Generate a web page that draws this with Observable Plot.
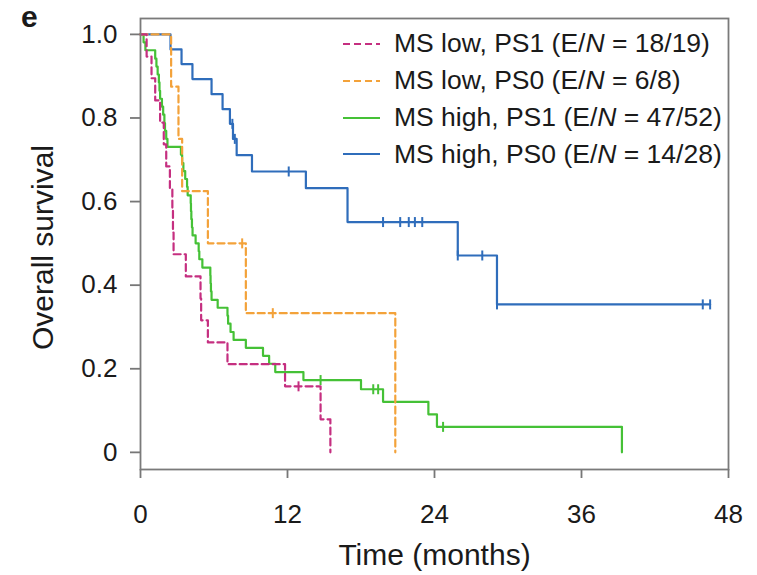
<!DOCTYPE html>
<html>
<head>
<meta charset="utf-8">
<script src="https://cdn.jsdelivr.net/npm/d3@7"></script>
<script src="https://cdn.jsdelivr.net/npm/@observablehq/plot@0.6"></script>
<style>
  body { margin: 0; background: #fff; }
  #wrap { position: relative; width: 757px; height: 575px; font-family: "Liberation Sans", Arial, Helvetica, sans-serif; color: #1a1a1a; }
  #panel { position: absolute; left: 21px; top: 0px; font-weight: bold; font-size: 30px; line-height: 1.15; }
  #legend { position: absolute; left: 343px; top: 25.6px; }
  .row { display: flex; align-items: center; height: 36.8px; font-size: 26.5px; white-space: nowrap; }
  .row svg { margin-right: 14px; }
</style>
</head>
<body>
<div id="wrap">
  <div id="chart"></div>
  <div id="panel">e</div>
  <div id="legend"></div>
</div>
<script>
// ---- axis ticks ----
const xTicks = [0, 12, 24, 36, 48];
const yTicks = [0, 0.2, 0.4, 0.6, 0.8, 1.0];
const yTickLabels = ["0", "0.2", "0.4", "0.6", "0.8", "1.0"];

// ---- series legend info ----
const seriesNames = ["MS low, PS1", "MS low, PS0", "MS high, PS1", "MS high, PS0"];
const seriesEN = ["18/19", "6/8", "47/52", "14/28"];
const seriesColors = ["#c52f80", "#f3a23a", "#45c136", "#2f6dbb"];
const seriesDashed = [true, true, false, false];

// ---- MS low, PS1 ----
const lowPS1Time = [0, 0.5, 0.9, 1.2, 1.6, 1.9, 2.1, 2.4, 2.6, 2.65, 2.7, 3.7, 4.9, 4.95, 5.5, 7.1, 11.8, 14.7, 15.5];
const lowPS1Surv = [1, 0.947, 0.895, 0.842, 0.789, 0.737, 0.684, 0.632, 0.579, 0.526, 0.474, 0.421, 0.368, 0.316, 0.263, 0.211, 0.158, 0.079, 0];
const lowPS1CensTime = [12.9];
const lowPS1CensSurv = [0.158];

// ---- MS low, PS0 ----
const lowPS0Time = [0, 2.5, 3.1, 3.4, 5.5, 8.6, 20.8];
const lowPS0Surv = [1, 0.875, 0.75, 0.625, 0.5, 0.333, 0];
const lowPS0CensTime = [8.3, 10.8];
const lowPS0CensSurv = [0.5, 0.333];

// ---- MS high, PS1 ----
const highPS1Time = [0, 0.25, 0.4, 1.2, 1.3, 1.4, 1.5, 1.55, 1.6, 1.75, 1.85, 1.95, 2.0, 2.1, 2.2,
  3.3, 3.4, 3.5, 3.65, 3.8, 3.85, 4.1, 4.12, 4.15, 4.2, 4.25, 4.5, 4.75, 4.8, 5.05,
  5.7, 5.72, 5.75, 5.8, 6.3, 7.1, 7.15, 7.35, 7.6, 8.6, 10.0, 10.5, 11.0, 13.3, 18.0, 19.8, 23.5, 24.2, 39.3];
const highPS1Surv = [1, 0.981, 0.962, 0.942, 0.923, 0.904, 0.885, 0.865, 0.846, 0.827, 0.808, 0.788, 0.769, 0.75, 0.731,
  0.712, 0.692, 0.673, 0.654, 0.635, 0.615, 0.596, 0.577, 0.558, 0.538, 0.519, 0.5, 0.481, 0.462, 0.442,
  0.423, 0.404, 0.385, 0.365, 0.346, 0.327, 0.308, 0.288, 0.269, 0.25, 0.231, 0.212, 0.192, 0.173, 0.151, 0.121, 0.091, 0.061, 0];
const highPS1CensTime = [14.7, 19.0, 19.4, 24.7];
const highPS1CensSurv = [0.173, 0.151, 0.151, 0.061];

// ---- MS high, PS0 ----
const highPS0Time = [0, 2.45, 3.35, 4.24, 5.8, 6.7, 7.3, 7.55, 7.85, 9.1, 13.5, 16.9, 25.9, 29.1, 46.5];
const highPS0Surv = [1, 0.964, 0.929, 0.893, 0.857, 0.821, 0.786, 0.75, 0.711, 0.672, 0.632, 0.551, 0.471, 0.354, 0.354];
const highPS0CensTime = [7.5, 7.7, 12.1, 19.8, 21.2, 21.9, 22.4, 23.0, 25.9, 27.9, 29.1, 45.9, 46.5];
const highPS0CensSurv = [0.786, 0.75, 0.672, 0.551, 0.551, 0.551, 0.551, 0.551, 0.471, 0.471, 0.354, 0.354, 0.354];

const curveTimes = [lowPS1Time, lowPS0Time, highPS1Time, highPS0Time];
const curveSurvs = [lowPS1Surv, lowPS0Surv, highPS1Surv, highPS0Surv];
const censTimes = [lowPS1CensTime, lowPS0CensTime, highPS1CensTime, highPS0CensTime];
const censSurvs = [lowPS1CensSurv, lowPS0CensSurv, highPS1CensSurv, highPS0CensSurv];

const vbar = {
  draw(ctx, size) {
    const h = Math.sqrt(size / Math.PI);
    ctx.moveTo(0, -h);
    ctx.lineTo(0, h);
  }
};

const drawOrder = [3, 2, 1, 0];
const dataMarks = [];
for (const k of drawOrder) {
  const rows = curveTimes[k].map((t, i) => ({t, s: curveSurvs[k][i]}));
  const cens = censTimes[k].map((t, i) => ({t, s: censSurvs[k][i]}));
  dataMarks.push(Plot.line(rows, {
    x: "t", y: "s", curve: "step-after",
    stroke: seriesColors[k], strokeWidth: 2.2,
    strokeDasharray: seriesDashed[k] ? "7,4" : null
  }));
  dataMarks.push(Plot.dot(cens, {
    x: "t", y: "s", symbol: vbar, r: 5,
    stroke: seriesColors[k], fill: "none", strokeWidth: 2
  }));
}

const chart = Plot.plot({
  width: 757,
  height: 575,
  marginLeft: 140,
  marginRight: 29,
  marginTop: 18,
  marginBottom: 106,
  x: {domain: [0, 48]},
  y: {domain: [-0.041, 1.038]},
  style: {fontFamily: "'Liberation Sans', Arial, Helvetica, sans-serif", fontSize: "26px", color: "#1a1a1a", background: "white"},
  marks: [
    Plot.axisY({ticks: yTicks, tickFormat: d => yTickLabels[yTicks.indexOf(d)], tickSize: 10, tickPadding: 13, stroke: "#777", strokeWidth: 1.8, fill: "#1a1a1a", label: null, fontSize: 26}),
    Plot.axisX({ticks: xTicks, tickFormat: d => String(d), tickSize: 9, tickPadding: 26, stroke: "#777", strokeWidth: 1.8, fill: "#1a1a1a", label: null, fontSize: 26}),
    Plot.text(["Time (months)"], {frameAnchor: "bottom", dy: 86, lineAnchor: "middle", textAnchor: "middle", fontSize: 30, fill: "#1a1a1a"}),
    Plot.text(["Overall survival"], {frameAnchor: "left", dx: -97.6, dy: 3.5, rotate: -90, lineAnchor: "middle", textAnchor: "middle", fontSize: 30, fill: "#1a1a1a"}),
    ...dataMarks,
    Plot.frame({stroke: "#7a7a7a", strokeWidth: 1.8})
  ]
});
document.getElementById("chart").appendChild(chart);

// ---- legend ----
const legend = document.getElementById("legend");
seriesNames.forEach((name, k) => {
  const row = document.createElement("div");
  row.className = "row";
  const dash = seriesDashed[k] ? ' stroke-dasharray="7,4"' : '';
  row.innerHTML = `<svg width="37" height="6"><line x1="0" y1="3" x2="37" y2="3" stroke="${seriesColors[k]}" stroke-width="2"${dash}/></svg><span>${name} (E/<i>N</i> = ${seriesEN[k]})</span>`;
  legend.appendChild(row);
});
</script>
</body>
</html>
